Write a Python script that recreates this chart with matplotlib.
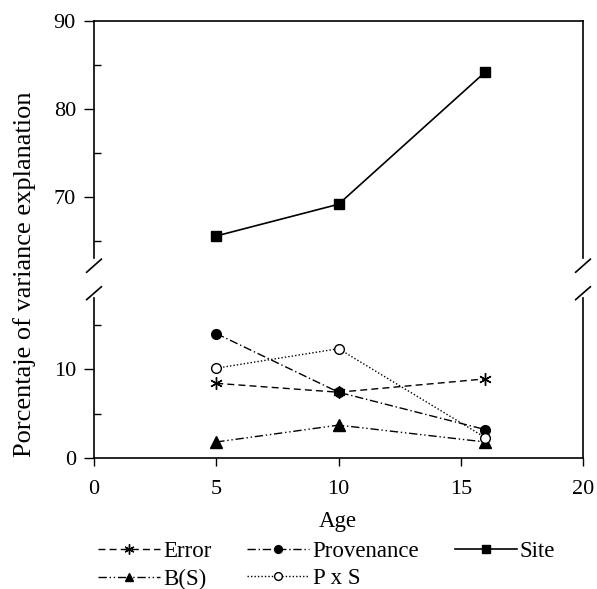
import matplotlib
matplotlib.use("Agg")
import matplotlib.pyplot as plt
from matplotlib.ticker import MultipleLocator

plt.rcParams['font.family'] = ['Liberation Serif', 'DejaVu Serif']

ages = [5, 10, 16]
site = [65.6, 69.2, 84.2]
error = [8.4, 7.4, 8.9]
provenance = [14.0, 7.4, 3.2]
bs = [1.8, 3.7, 1.8]
pxs = [10.1, 12.3, 2.3]
labels = ["Error", "Provenance", "Site", "B(S)", "P x S"]

fig = plt.figure(figsize=(5.97, 5.89), dpi=100)
L, R = 94/597, 583/597
ax_top = fig.add_axes([L, 1-258/589, R-L, (258-21)/589])
ax_bot = fig.add_axes([L, 1-458/589, R-L, (458-298)/589])

lw = 1.0
ast = (6, 2, 0)
h_err, = ax_bot.plot(ages, error, color='black', lw=lw, ls=(0, (5, 3)), marker=ast, ms=9, mew=1.0)
h_prov, = ax_bot.plot(ages, provenance, color='black', lw=lw, ls=(0, (6, 2, 1, 2)), marker='o', ms=7)
h_bs, = ax_bot.plot(ages, bs, color='black', lw=lw, ls=(0, (6, 2, 1, 2, 1, 2)), marker='^', ms=8)
h_pxs, = ax_bot.plot(ages, pxs, color='black', lw=lw, ls=(0, (1, 1.5)), marker='o', ms=7, mfc='white', mew=1.0)
h_site, = ax_top.plot(ages, site, color='black', lw=1.2, ls='-', marker='s', ms=7)

for ax in (ax_top, ax_bot):
    ax.set_xlim(0, 20)
    ax.xaxis.set_major_locator(MultipleLocator(5))
    ax.yaxis.set_major_locator(MultipleLocator(10))
    ax.yaxis.set_minor_locator(MultipleLocator(5))
    ax.tick_params(axis='y', which='major', direction='out', length=7, width=1, labelsize=16, pad=6)
    ax.tick_params(axis='y', which='minor', direction='in', length=5, width=1)
    ax.tick_params(axis='x', which='major', direction='out', length=6, width=1, labelsize=16, pad=10)
    for s in ax.spines.values():
        s.set_linewidth(1.2)

ax_top.set_ylim(63.1, 90)
ax_bot.set_ylim(0, 18)
ax_top.spines['bottom'].set_visible(False)
ax_top.tick_params(axis='x', bottom=False, labelbottom=False)
ax_bot.spines['top'].set_visible(False)

# break marks
d = 0.015
kw = dict(color='black', lw=1.2, clip_on=False)
for xx in (0, 1):
    ax_top.plot([xx-d, xx+d], [-0.06, -0.005], transform=ax_top.transAxes, **kw)
    ax_bot.plot([xx-d, xx+d], [0.99, 1.07], transform=ax_bot.transAxes, **kw)

fig.text(338/597, 1-522/589, "Age", ha='center', va='center', fontsize=16.5)
fig.text(25/597, 1-274/589, "Porcentaje of variance explanation", rotation=90,
         ha='center', va='center', fontsize=19)

handles = [h_err, h_bs, h_prov, h_pxs, h_site]
hl = ["Error", "B(S)", "Provenance", "P x S", "Site"]
fig.legend(handles, hl, loc='upper left', bbox_to_anchor=(98/597, 1-541/589), ncol=3,
           frameon=False, fontsize=16.5, handlelength=2.7, handletextpad=0.15,
           columnspacing=1.55, labelspacing=0.28, borderaxespad=0, borderpad=0,
           markerscale=0.8)

fig.savefig("out.png", dpi=100)
